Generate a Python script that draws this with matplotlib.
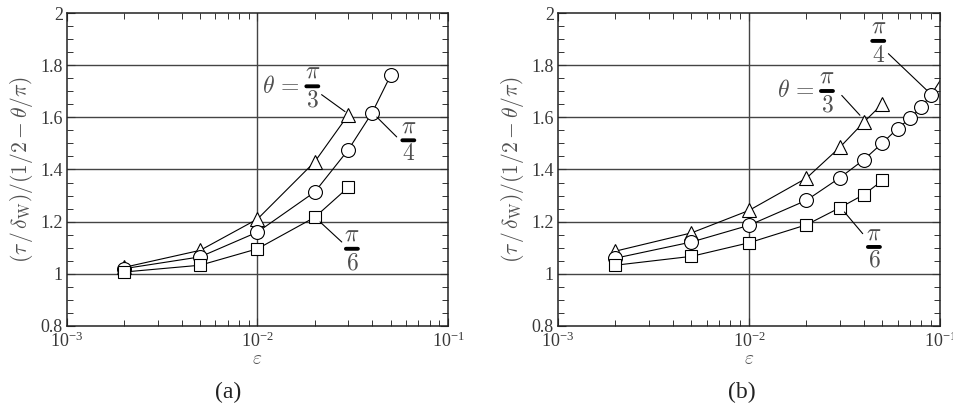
import matplotlib.pyplot as plt
from matplotlib.ticker import FixedLocator, FuncFormatter, LogLocator, MultipleLocator

plt.rcParams['font.family'] = ['Liberation Serif', 'DejaVu Serif']
plt.rcParams['mathtext.fontset'] = 'cm'

# ====================== (a) ======================
eps_a_tri = [0.002, 0.005, 0.01, 0.02, 0.03]
val_a_tri = [1.025, 1.09, 1.21, 1.43, 1.61]
eps_a_cir = [0.002, 0.005, 0.01, 0.02, 0.03, 0.04, 0.05]
val_a_cir = [1.02, 1.065, 1.16, 1.314, 1.476, 1.618, 1.761]
eps_a_sq = [0.002, 0.005, 0.01, 0.02, 0.03]
val_a_sq = [1.007, 1.033, 1.096, 1.217, 1.332]

# ====================== (b) ======================
eps_b_tri = [0.002, 0.005, 0.01, 0.02, 0.03, 0.04, 0.05]
val_b_tri = [1.087, 1.157, 1.243, 1.367, 1.486, 1.582, 1.652]
eps_b_cir = [0.002, 0.005, 0.01, 0.02, 0.03, 0.04, 0.05, 0.06, 0.07, 0.08, 0.09, 0.1]
val_b_cir = [1.06, 1.122, 1.186, 1.282, 1.369, 1.438, 1.502, 1.557, 1.597, 1.64, 1.687, 1.74]
eps_b_sq = [0.002, 0.005, 0.01, 0.02, 0.03, 0.04, 0.05]
val_b_sq = [1.033, 1.067, 1.119, 1.188, 1.254, 1.304, 1.358]

ytick_vals = [0.8, 1.0, 1.2, 1.4, 1.6, 1.8, 2.0]
ytick_labels = ['0.8', '1', '1.2', '1.4', '1.6', '1.8', '2']
xtick_vals = [1e-3, 1e-2, 1e-1]
xtick_labels = [r'$\mathregular{10^{-3}}$', r'$\mathregular{10^{-2}}$', r'$\mathregular{10^{-1}}$']

fig = plt.figure(figsize=(9.54, 4.04), dpi=100)
ax_a = fig.add_axes([0.0702, 0.1931, 0.3994, 0.7747])
ax_b = fig.add_axes([0.5849, 0.1931, 0.4004, 0.7747])

mk = dict(color='black', lw=0.8, mfc='white', mec='black', mew=0.8)
txt_col = '#505050'


def setup(ax):
    ax.set_xscale('log')
    ax.set_xlim(1e-3, 1e-1)
    ax.set_ylim(0.8, 2.0)
    ax.xaxis.set_major_locator(FixedLocator(xtick_vals))
    ax.xaxis.set_major_formatter(FuncFormatter(lambda v, p: xtick_labels[xtick_vals.index(v)] if v in xtick_vals else ''))
    ax.xaxis.set_minor_locator(LogLocator(base=10, subs=range(2, 10)))
    ax.xaxis.set_minor_formatter(FuncFormatter(lambda v, p: ''))
    ax.yaxis.set_major_locator(FixedLocator(ytick_vals))
    ax.set_yticklabels(ytick_labels)
    ax.yaxis.set_minor_locator(MultipleLocator(0.05))
    ax.tick_params(which='both', direction='in', top=True, right=True,
                   labelsize=13, labelcolor='#383838', color='#333333')
    ax.tick_params(which='major', length=6, width=0.8)
    ax.tick_params(which='minor', length=4, width=0.7)
    ax.tick_params(axis='x', pad=4)
    ax.tick_params(axis='y', pad=3)
    for s in ax.spines.values():
        s.set_linewidth(1.1)
        s.set_color('#222222')
    for y in [1.0, 1.2, 1.4, 1.6, 1.8]:
        ax.axhline(y, color='#444444', lw=1.0, zorder=0)
    ax.axvline(1e-2, color='#444444', lw=1.0, zorder=0)
    ax.set_xlabel(r'$\varepsilon$', fontsize=14, color=txt_col, labelpad=0)
    ax.set_ylabel(r'$(\tau\,/\,\delta_{\mathrm{W}})/(1/2-\theta/\pi)$', fontsize=15.5,
                  color=txt_col, labelpad=4)


def frac(ax, x, y_top, y_bar, y_bot, den):
    ax.text(x, y_top, r'$\pi$', ha='center', va='center', fontsize=17, color=txt_col)
    ax.annotate('', xy=(x * 1.075, y_bar), xytext=(x / 1.075, y_bar),
                arrowprops=dict(arrowstyle='-', lw=2.8, color='black', shrinkA=0, shrinkB=0))
    ax.text(x, y_bot, den, ha='center', va='center', fontsize=17, color=txt_col)


def leader(ax, p0, p1):
    ax.annotate('', xy=p1, xytext=p0,
                arrowprops=dict(arrowstyle='-', lw=0.8, color='black', shrinkA=0, shrinkB=0))


setup(ax_a)
setup(ax_b)

# === panel (a) ===
ax_a.plot(eps_a_tri, val_a_tri, marker='^', ms=10, **mk)
ax_a.plot(eps_a_cir, val_a_cir, marker='o', ms=10, **mk)
ax_a.plot(eps_a_sq, val_a_sq, marker='s', ms=8, **mk)

ax_a.text(0.0132, 1.715, r'$\theta\,=$', ha='center', va='center', fontsize=17, color=txt_col)
frac(ax_a, 0.0194, 1.774, 1.719, 1.662, r'$3$')
leader(ax_a, (0.0217, 1.687), (0.0288, 1.622))
frac(ax_a, 0.0619, 1.563, 1.512, 1.458, r'$4$')
leader(ax_a, (0.0423, 1.601), (0.0538, 1.525))
frac(ax_a, 0.0313, 1.148, 1.096, 1.036, r'$6$')
leader(ax_a, (0.0213, 1.199), (0.0277, 1.122))

# === panel (b) ===
ax_b.plot(eps_b_tri, val_b_tri, marker='^', ms=10, **mk)
ax_b.plot(eps_b_cir, val_b_cir, marker='o', ms=10, markevery=list(range(len(eps_b_cir) - 1)), **mk)
ax_b.plot(eps_b_sq, val_b_sq, marker='s', ms=8, **mk)

ax_b.text(0.0175, 1.70, r'$\theta\,=$', ha='center', va='center', fontsize=17, color=txt_col)
frac(ax_b, 0.0256, 1.755, 1.701, 1.643, r'$3$')
leader(ax_b, (0.0306, 1.684), (0.0381, 1.608))
frac(ax_b, 0.0475, 1.946, 1.893, 1.835, r'$4$')
leader(ax_b, (0.0537, 1.844), (0.0853, 1.704))
frac(ax_b, 0.0451, 1.154, 1.103, 1.051, r'$6$')
leader(ax_b, (0.0316, 1.237), (0.0394, 1.154))

fig.text(228 / 954, 1 - 392 / 404, '(a)', ha='center', va='center', fontsize=17, color='#222222')
fig.text(742 / 954, 1 - 392 / 404, '(b)', ha='center', va='center', fontsize=17, color='#222222')

plt.savefig('out.png', dpi=100)
